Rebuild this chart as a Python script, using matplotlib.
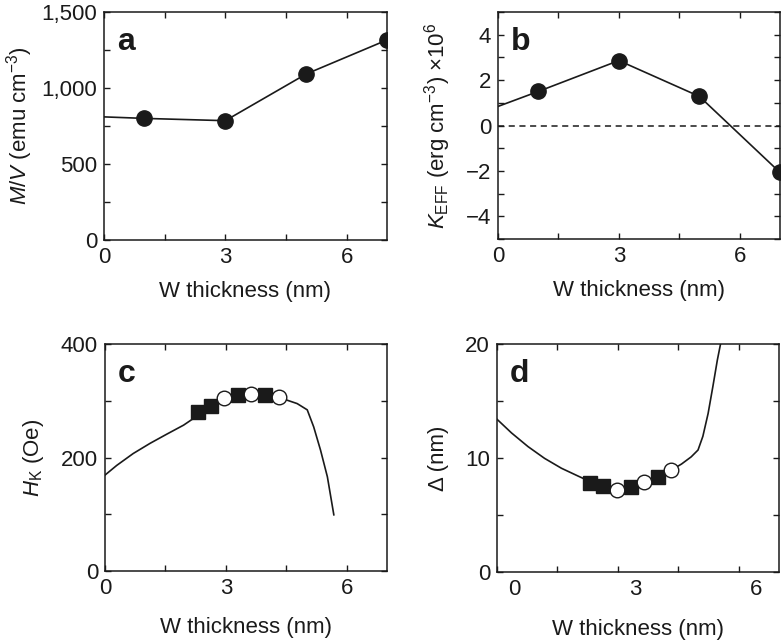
import matplotlib
matplotlib.use("Agg")
import matplotlib.pyplot as plt
from matplotlib.ticker import MultipleLocator
from matplotlib.transforms import ScaledTranslation

plt.rcParams["font.family"] = ["Liberation Sans", "DejaVu Sans"]
plt.rcParams["mathtext.fontset"] = "custom"
plt.rcParams["mathtext.rm"] = "Liberation Sans"
plt.rcParams["mathtext.it"] = "Liberation Sans:italic"
plt.rcParams["mathtext.bf"] = "Liberation Sans:bold"

# panel a: M/V vs W thickness
a_line_x = [0, 1, 3, 5, 7]
a_line_y = [810, 800, 785, 1092, 1316]
a_pts_x = [1, 3, 5, 7]
a_pts_y = [800, 785, 1092, 1316]

# panel b: K_EFF vs W thickness
b_line_x = [0, 1, 3, 5, 7]
b_line_y = [0.84, 1.5, 2.86, 1.28, -2.07]
b_pts_x = [1, 3, 5, 7]
b_pts_y = [1.5, 2.86, 1.28, -2.07]

# panel c: H_K fit curve and data
c_curve_x = [0, 0.29, 0.70, 1.12, 1.53, 1.95, 2.20, 2.30, 2.63, 2.96, 3.30, 3.63,
             3.96, 4.31, 4.52, 4.77, 5.02, 5.18, 5.35, 5.52, 5.68]
c_curve_y = [169, 186, 207, 225, 241, 257, 269, 279, 291, 302, 308, 310,
             308, 305, 301, 295, 284, 254, 213, 166, 99]
c_sq_x = [2.30, 2.63, 3.30, 3.96]
c_sq_y = [281, 291, 310, 310]
c_circ_x = [2.96, 3.63, 4.31]
c_circ_y = [304, 312, 306]

# panel d: Delta fit curve and data
d_curve_x = [0, 0.36, 0.77, 1.18, 1.60, 2.01, 2.30, 2.63, 2.99, 3.32, 3.65, 4.00,
             4.33, 4.58, 4.82, 4.99, 5.11, 5.24, 5.36, 5.47, 5.56]
d_curve_y = [13.4, 12.2, 11.0, 9.97, 9.1, 8.42, 7.95, 7.55, 7.25, 7.45, 7.85, 8.4,
             8.95, 9.47, 10.1, 10.7, 11.9, 13.9, 16.3, 18.6, 20.2]
d_sq_x = [2.30, 2.63, 3.32, 4.00]
d_sq_y = [7.84, 7.54, 7.49, 8.36]
d_circ_x = [2.99, 3.65, 4.33]
d_circ_y = [7.19, 7.87, 8.95]

xlabel = "W thickness (nm)"
ink = "#1a1a1a"
fs = 16
W, H = 781, 641

fig = plt.figure(figsize=(W / 100, H / 100), dpi=100)


def make_ax(l, t, r, b):
    return fig.add_axes([l / W, 1 - b / H, (r - l) / W, (b - t) / H])


ax_a = make_ax(104, 12, 387, 240)
ax_b = make_ax(498, 12, 780, 239)
ax_c = make_ax(105, 344, 387, 571)
ax_d = make_ax(497, 344, 779, 572)


def style(ax, ymin, ymax, ymaj, ymin_step, letter):
    ax.set_xlim(0, 7)
    ax.set_ylim(ymin, ymax)
    ax.xaxis.set_major_locator(MultipleLocator(3))
    ax.xaxis.set_minor_locator(MultipleLocator(1.5))
    ax.yaxis.set_major_locator(MultipleLocator(ymaj))
    ax.yaxis.set_minor_locator(MultipleLocator(ymin_step))
    ax.tick_params(which="both", direction="in", top=True, right=True,
                   length=4.5, width=1.0, color=ink)
    ax.tick_params(which="major", labelsize=fs, labelcolor=ink, pad=5)
    for s in ax.spines.values():
        s.set_linewidth(1.1)
        s.set_color(ink)
    ax.text(0.045, 0.87, letter, transform=ax.transAxes, fontsize=23,
            fontweight="bold", color=ink, va="center", ha="left")


def ylab(ax, text, x):
    ax.set_ylabel(text, fontsize=fs, color=ink)
    ax.yaxis.set_label_coords(x, 0.5)
    ax.yaxis.label.set_va("center")


style(ax_a, 0, 1500, 500, 250, "a")
ax_a.yaxis.set_major_formatter(plt.FuncFormatter(lambda v, p: f"{int(v):,}"))
ax_a.plot(a_line_x, a_line_y, color=ink, lw=1.2)
ax_a.plot(a_pts_x, a_pts_y, "o", color=ink, ms=11)
ylab(ax_a, "$M$/$V$ (emu cm$^{-3}$)", -0.30)

style(ax_b, -5, 5, 2, 1, "b")
ax_b.axhline(0, color=ink, lw=1.1, ls=(0, (4, 3)))
ax_b.plot(b_line_x, b_line_y, color=ink, lw=1.2)
ax_b.plot(b_pts_x, b_pts_y, "o", color=ink, ms=11)
ylab(ax_b, "$K_{\\rm EFF}$ (erg cm$^{-3}$) ×10$^6$", -0.216)

style(ax_c, 0, 400, 200, 100, "c")
ax_c.plot(c_curve_x, c_curve_y, color=ink, lw=1.2)
ax_c.plot(c_sq_x, c_sq_y, "s", color=ink, ms=10, mec=ink)
ax_c.plot(c_circ_x, c_circ_y, "o", mfc="white", mec=ink, mew=1.0, ms=10.5)
ylab(ax_c, "$H_{\\rm K}$ (Oe)", -0.255)

style(ax_d, 0, 20, 10, 5, "d")
ax_d.plot(d_curve_x, d_curve_y, color=ink, lw=1.2)
ax_d.plot(d_sq_x, d_sq_y, "s", color=ink, ms=10, mec=ink)
ax_d.plot(d_circ_x, d_circ_y, "o", mfc="white", mec=ink, mew=1.0, ms=10.5)
ylab(ax_d, "Δ (nm)", -0.209)
# the x tick labels of panel d sit shifted to the right of their ticks
shift = ScaledTranslation(17 / 100, 0, fig.dpi_scale_trans)
for lab in ax_d.get_xticklabels():
    lab.set_transform(lab.get_transform() + shift)

for ax, ly in [(ax_a, -0.228), (ax_b, -0.228), (ax_c, -0.251), (ax_d, -0.251)]:
    ax.set_xlabel(xlabel, fontsize=fs, color=ink)
    ax.xaxis.set_label_coords(0.5, ly)
    ax.xaxis.label.set_va("center")

fig.savefig("out.png", dpi=100)
